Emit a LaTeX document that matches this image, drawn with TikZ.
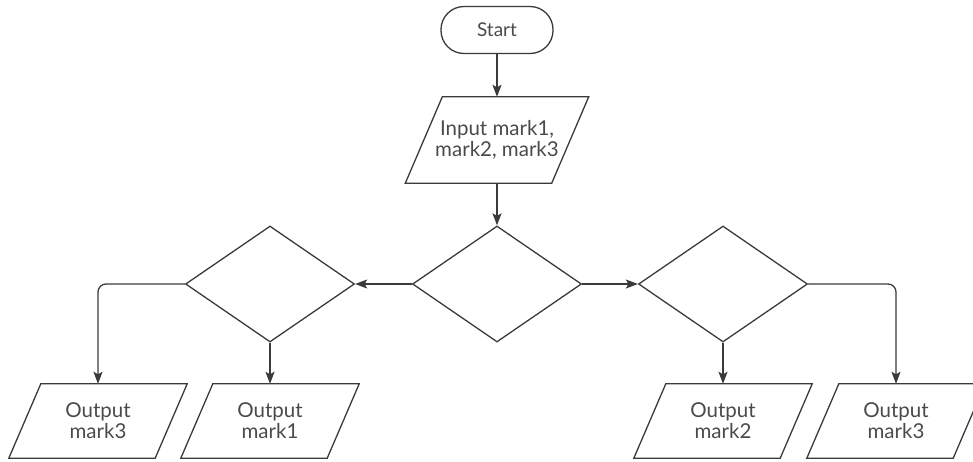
\documentclass[tikz,border=0pt]{standalone}
\usepackage{fontspec}
\setmainfont{Lato}
\usetikzlibrary{shapes.geometric,arrows.meta}
\definecolor{ink}{HTML}{3A3A3A}
\definecolor{txt}{HTML}{4A4A4A}
% parallelogram outline around a rectangular node: #1 node name, #2 half the slant offset
\newcommand{\iooutline}[2]{%
  \draw[ink, line width=1.3pt, line join=miter]
    ([xshift=#2]#1.north west) -- ([xshift=#2]#1.north east) --
    ([xshift=-#2]#1.south east) -- ([xshift=-#2]#1.south west) -- cycle;}
\begin{document}
\begin{tikzpicture}[x=1pt,y=-1pt,
  every node/.style={font=\fontsize{20.5}{21}\selectfont, text=txt, align=center, inner sep=0pt},
  terminal/.style={draw=ink, line width=1.3pt, rounded corners=23pt, minimum width=112pt, minimum height=47pt},
  iobox/.style={rectangle, minimum width=146pt, minimum height=74pt},
  decision/.style={draw=ink, line width=1.3pt, diamond, minimum width=169pt, minimum height=116pt},
  flow/.style={draw=ink, line width=1.3pt, -{Stealth[length=12pt,width=9pt,inset=2.5pt]}},
]
\useasboundingbox (0,0) rectangle (973,461);

% main column
\node[terminal, font=\fontsize{19}{21}\selectfont] (start) at (497,30) {Start};
\node[iobox, minimum height=86pt] (input) at (497,140) {Input mark1,\\mark2, mark3};
\node[decision] (dmid) at (497,284) {};

% side decisions
\node[decision] (dleft) at (270,284) {};
\node[decision] (dright) at (723,284) {};

% outputs
\node[iobox] (outL3) at (98,421) {Output\\mark3};
\node[iobox] (out1) at (270,421) {Output\\mark1};
\node[iobox] (out2) at (723,421) {Output\\mark2};
\node[iobox] (outR3) at (896,421) {Output\\mark3};

% parallelogram outlines
\iooutline{input}{18.5pt}
\iooutline{outL3}{16pt}
\iooutline{out1}{16pt}
\iooutline{out2}{16pt}
\iooutline{outR3}{16pt}

% connectors
\draw[flow] (start) -- (input);
\draw[flow] (input) -- (dmid);
\draw[flow] (dmid.west) -- (dleft.east);
\draw[flow] (dmid.east) -- (dright.west);
\draw[flow, rounded corners=8pt] (dleft.west) -| (outL3.north);
\draw[flow] (dleft.south) -- (out1.north);
\draw[flow] (dright.south) -- (out2.north);
\draw[flow, rounded corners=8pt] (dright.east) -| (outR3.north);
\end{tikzpicture}
\end{document}
